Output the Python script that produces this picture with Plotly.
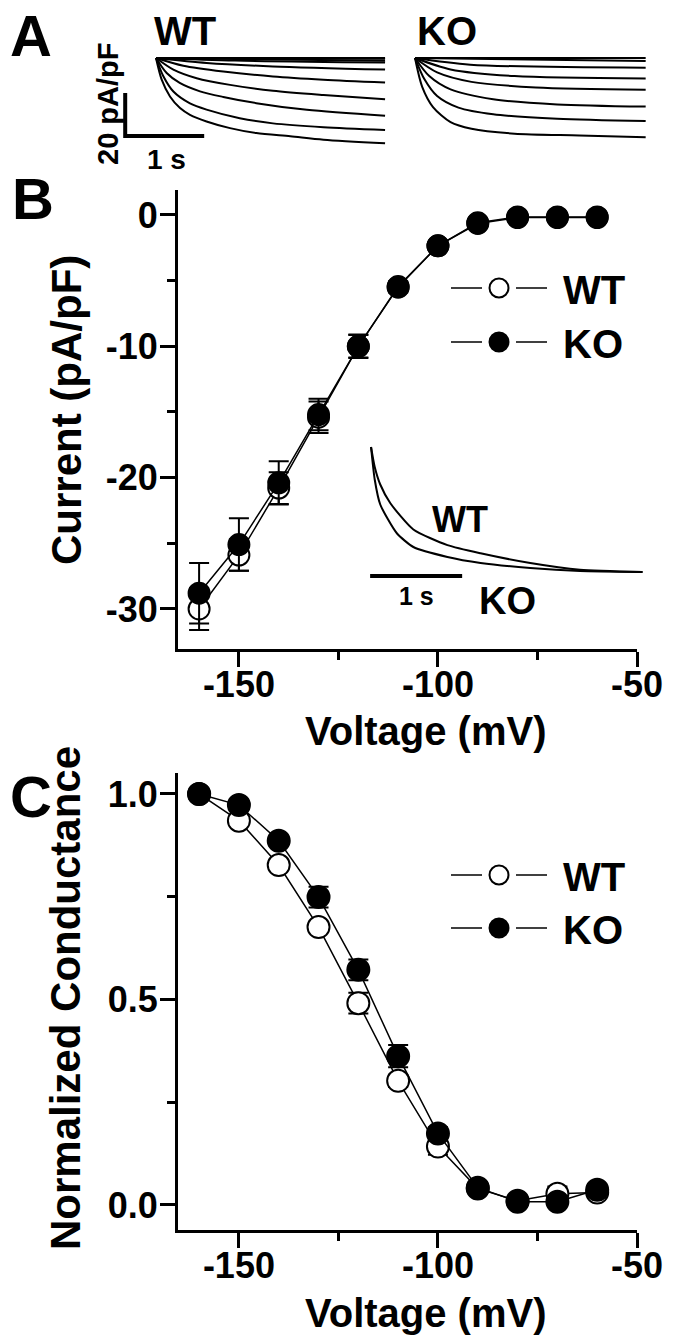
import plotly.graph_objects as go

W, H = 673, 1341
FONT = "Liberation Sans, Arial, Helvetica, sans-serif"


def px(x):
    return x / W


def py(y):
    return 1 - y / H


# ---------------- Data ----------------
voltage = [-160, -150, -140, -130, -120, -110, -100, -90, -80, -70, -60]
x_tickvals = [-150, -100, -50]
x_ticktext = ["-150", "-100", "-50"]

# Panel B: current density (pA/pF)
iv_wt = [-30.0, -25.9, -20.8, -15.4, -10.0, -5.5, -2.35, -0.6, -0.15, -0.15, -0.15]
iv_wt_err = [1.6, 1.2, 1.2, 1.2, 0.9, 0.4, 0.3, 0.2, 0.1, 0.1, 0.1]
iv_ko = [-28.8, -25.1, -20.4, -15.2, -10.0, -5.45, -2.35, -0.65, -0.2, -0.2, -0.2]
iv_ko_err = [2.3, 2.0, 1.65, 1.2, 0.85, 0.4, 0.3, 0.2, 0.1, 0.1, 0.1]
b_tickvals = [0, -10, -20, -30]
b_ticktext = ["0", "-10", "-20", "-30"]

# Panel C: normalized conductance
g_wt = [1.0, 0.935, 0.827, 0.676, 0.491, 0.302, 0.142, 0.04, 0.01, 0.027, 0.03]
g_wt_err = [0, 0.012, 0.012, 0.012, 0.025, 0.015, 0.02, 0.01, 0.01, 0.018, 0.01]
g_ko = [1.0, 0.973, 0.886, 0.749, 0.572, 0.362, 0.174, 0.042, 0.008, 0.008, 0.037]
g_ko_err = [0, 0.01, 0.012, 0.025, 0.025, 0.027, 0.015, 0.01, 0.008, 0.008, 0.01]
c_tickvals = [0, 0.5, 1.0]
c_ticktext = ["0.0", "0.5", "1.0"]

# Panel A: representative current sweeps (time s, current pA/pF)
wt_sweep_t = [
    [0, 0.072, 0.177, 0.304, 0.43, 0.64, 0.937, 1.27, 1.70, 2.12, 2.90],
    [0, 0.093, 0.22, 0.43, 0.64, 1.06, 1.48, 2.12, 2.90],
    [0, 0.135, 0.30, 0.557, 0.852, 1.27, 1.91, 2.90],
    [0, 0.22, 0.515, 0.937, 1.48, 2.12, 2.90],
    [0, 0.346, 0.852, 1.48, 2.12, 2.90],
    [0, 0.64, 1.48, 2.90],
    [0, 1.0, 2.90],
    [0, 2.90],
    [0, 2.90],
    [0, 2.90],
]
wt_sweep_i = [
    [0, -10.1, -17.9, -23.3, -26.4, -29.5, -32.6, -34.9, -36.4, -38.0, -39.7],
    [0, -8.5, -15.6, -21.1, -24.0, -28.0, -30.4, -32.2, -33.5],
    [0, -7.0, -11.6, -15.5, -18.1, -21.0, -24.1, -26.9],
    [0, -5.4, -9.4, -12.5, -15.2, -17.2, -19.2],
    [0, -3.6, -6.3, -8.6, -10.1, -11.4],
    [0, -2.3, -3.9, -5.4],
    [0, -1.2, -2.1],
    [0, -1.3],
    [0, -0.4],
    [0, 0.0],
]
ko_sweep_t = [
    [0, 0.091, 0.228, 0.45, 0.715, 1.26, 2.08, 2.92],
    [0, 0.12, 0.28, 0.55, 0.99, 1.8, 2.92],
    [0, 0.18, 0.45, 0.99, 1.8, 2.92],
    [0, 0.28, 0.715, 1.53, 2.92],
    [0, 0.45, 1.26, 2.92],
    [0, 0.7, 2.92],
    [0, 2.92],
    [0, 2.92],
]
ko_sweep_i = [
    [0, -13.4, -22.8, -29.8, -32.9, -35.2, -36.0, -36.8],
    [0, -9.9, -17.7, -23.1, -26.2, -28.2, -29.3],
    [0, -8.4, -14.6, -19.2, -21.6, -22.6],
    [0, -6.7, -11.1, -13.7, -14.8],
    [0, -5.3, -8.4, -9.5],
    [0, -3.1, -4.5],
    [0, -1.4],
    [0, 0.0],
]

# Inset in B: normalized deactivation traces
inset_wt_t = [0, 0.04, 0.10, 0.21, 0.46, 0.83, 1.19, 1.73, 2.27, 2.95]
inset_wt_i = [1.0, 0.84, 0.70, 0.55, 0.34, 0.215, 0.15, 0.072, 0.018, 0.0]
inset_ko_t = [0, 0.04, 0.10, 0.28, 0.46, 0.83, 1.19, 1.73, 2.27, 2.95]
inset_ko_i = [1.0, 0.74, 0.54, 0.31, 0.2, 0.12, 0.072, 0.032, 0.008, 0.0]

scalebar_current = 20  # pA/pF
scalebar_time = 1  # s

# ---------------- Figure ----------------
fig = go.Figure()

# Panel A sweeps
for t, i in zip(wt_sweep_t, wt_sweep_i):
    fig.add_trace(go.Scatter(x=t, y=i, mode="lines", xaxis="x3", yaxis="y3",
                             line=dict(color="black", width=2, shape="spline", smoothing=0.8),
                             showlegend=False, hoverinfo="skip"))
for t, i in zip(ko_sweep_t, ko_sweep_i):
    fig.add_trace(go.Scatter(x=t, y=i, mode="lines", xaxis="x4", yaxis="y3",
                             line=dict(color="black", width=2, shape="spline", smoothing=0.8),
                             showlegend=False, hoverinfo="skip"))
# Panel A scale bars
sb_t0, sb_i0 = -0.39, -36.3
fig.add_trace(go.Scatter(x=[sb_t0, sb_t0, sb_t0 + scalebar_time],
                         y=[sb_i0 + scalebar_current, sb_i0, sb_i0],
                         mode="lines", xaxis="x3", yaxis="y3",
                         line=dict(color="black", width=4), showlegend=False, hoverinfo="skip"))

# Panel B
for vals, err, fill in [(iv_wt, iv_wt_err, "white"), (iv_ko, iv_ko_err, "black")]:
    fig.add_trace(go.Scatter(x=voltage, y=vals, mode="lines+markers", xaxis="x", yaxis="y",
                             line=dict(color="black", width=1.5),
                             marker=dict(symbol="circle", size=21, color=fill, line=dict(color="black", width=2)),
                             error_y=dict(type="data", array=err, color="black", thickness=2, width=10),
                             showlegend=False))

# Inset traces
for t, i in [(inset_wt_t, inset_wt_i), (inset_ko_t, inset_ko_i)]:
    fig.add_trace(go.Scatter(x=t, y=i, mode="lines", xaxis="x5", yaxis="y5",
                             line=dict(color="black", width=2, shape="spline", smoothing=0.6),
                             showlegend=False, hoverinfo="skip"))
fig.add_trace(go.Scatter(x=[-0.01, -0.01 + scalebar_time], y=[-0.032, -0.032], mode="lines",
                         xaxis="x5", yaxis="y5", line=dict(color="black", width=4),
                         showlegend=False, hoverinfo="skip"))

# Panel C
for vals, err, fill in [(g_wt, g_wt_err, "white"), (g_ko, g_ko_err, "black")]:
    fig.add_trace(go.Scatter(x=voltage, y=vals, mode="lines+markers", xaxis="x2", yaxis="y2",
                             line=dict(color="black", width=1.5),
                             marker=dict(symbol="circle", size=22, color=fill, line=dict(color="black", width=2)),
                             error_y=dict(type="data", array=err, color="black", thickness=2, width=10),
                             showlegend=False))

tickfont = dict(family=FONT, size=36, color="black", weight="bold")
axis_common = dict(ticks="outside", ticklen=15, tickwidth=3, tickcolor="black",
                   showline=True, linewidth=3, linecolor="black", showgrid=False,
                   zeroline=False, tickfont=tickfont, automargin=False)
xcommon = dict(range=[-165.3, -50], tickvals=x_tickvals, ticktext=x_ticktext, ticklabelstandoff=-13,
               minor=dict(tickvals=[-125, -75], ticks="outside", ticklen=8, tickwidth=3, tickcolor="black"),
               **axis_common)

fig.update_layout(
    width=W, height=H, autosize=False,
    margin=dict(l=0, r=0, t=0, b=0, autoexpand=False),
    paper_bgcolor="white", plot_bgcolor="white",
    showlegend=False,
    xaxis=dict(domain=[px(178), px(637)], anchor="y", **xcommon),
    yaxis=dict(domain=[py(649), py(190)], anchor="x", range=[-33.05, 1.9],
               tickvals=b_tickvals, ticktext=b_ticktext, ticklabelstandoff=-5,
               minor=dict(tickvals=[-5, -15, -25], ticks="outside", ticklen=8, tickwidth=3, tickcolor="black"),
               **axis_common),
    xaxis2=dict(domain=[px(178), px(637)], anchor="y2", **xcommon),
    yaxis2=dict(domain=[py(1230), py(773)], anchor="x2", range=[-0.061, 1.051],
                tickvals=c_tickvals, ticktext=c_ticktext, ticklabelstandoff=-5,
                minor=dict(tickvals=[0.25, 0.75], ticks="outside", ticklen=8, tickwidth=3, tickcolor="black"),
                **axis_common),
    xaxis3=dict(domain=[px(100), px(400)], anchor="y3", range=[-0.709, 3.089], visible=False, automargin=False),
    xaxis4=dict(domain=[px(400), px(673)], anchor="y3", range=[-0.19, 3.266], visible=False, automargin=False),
    yaxis3=dict(domain=[py(170), py(0)], anchor="x3", range=[-52.09, 26.98], visible=False, automargin=False),
    xaxis5=dict(domain=[px(360), px(660)], anchor="y5", range=[-0.12, 3.14], visible=False, automargin=False),
    yaxis5=dict(domain=[py(620), py(430)], anchor="x5", range=[-0.384, 1.136], visible=False, automargin=False),
)

# Legends (drawn as shapes) for B and C
shapes = []
for row_y, fill in [(288, "white"), (342, "black"), (875, "white"), (928, "black")]:
    shapes.append(dict(type="line", xref="paper", yref="paper", x0=px(451), x1=px(482), y0=py(row_y), y1=py(row_y),
                       line=dict(color="black", width=1.5)))
    shapes.append(dict(type="line", xref="paper", yref="paper", x0=px(516), x1=px(547), y0=py(row_y), y1=py(row_y),
                       line=dict(color="black", width=1.5)))
    shapes.append(dict(type="circle", xref="paper", yref="paper", x0=px(489.5), x1=px(508.5),
                       y0=py(row_y + 9.5), y1=py(row_y - 9.5), fillcolor=fill, line=dict(color="black", width=2)))
fig.update_layout(shapes=shapes)


def txt(x, y, s, size, angle=0, xanchor="center"):
    return dict(x=px(x), y=py(y), xref="paper", yref="paper", text=s, showarrow=False,
                xanchor=xanchor, yanchor="middle", textangle=angle,
                font=dict(family=FONT, size=size, color="black", weight="bold"))


annotations = [
    txt(31, 36, "A", 58), txt(33, 198, "B", 58), txt(31, 796, "C", 58),
    txt(185, 31, "WT", 40), txt(447, 31, "KO", 40),
    txt(108, 104, "20 pA/pF", 29, angle=-90), txt(166, 160, "1 s", 28),
    txt(426, 731, "Voltage (mV)", 40), txt(426, 1313, "Voltage (mV)", 40),
    txt(66, 410, "Current (pA/pF)", 42, angle=-90),
    txt(66, 998, "Normalized Conductance", 42, angle=-90),
    txt(561, 290, "WT", 40, xanchor="left"), txt(561, 344, "KO", 40, xanchor="left"),
    txt(561, 877, "WT", 40, xanchor="left"), txt(561, 930, "KO", 40, xanchor="left"),
    txt(460, 519, "WT", 36), txt(507, 601, "KO", 38), txt(416, 596, "1 s", 25),
]
fig.update_layout(annotations=annotations)

fig.write_html("out.html", config={"displayModeBar": False},
               post_script="document.body.style.margin='0px';document.body.style.padding='0px';")
